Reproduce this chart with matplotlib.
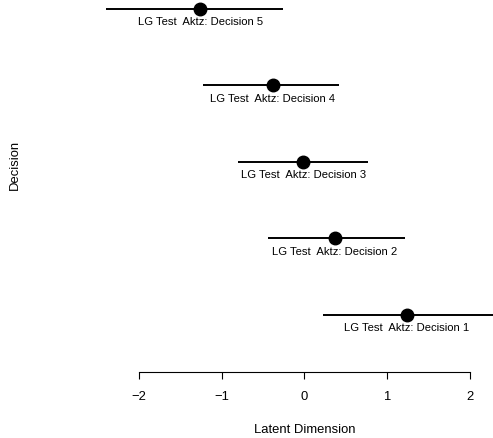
import matplotlib.pyplot as plt

plt.rcParams['font.family'] = ['Liberation Sans', 'DejaVu Sans']

# decisions 1..5 (bottom to top)
decisions = [1, 2, 3, 4, 5]
labels = ['LG Test  Aktz: Decision %d' % d for d in decisions]
est = [1.242, 0.371, -0.012, -0.382, -1.26]
lower = [0.226, -0.435, -0.798, -1.229, -2.40]
upper = [2.30, 1.218, 0.774, 0.423, -0.258]
ticks = [-2, -1, 0, 1, 2]

fig = plt.figure(figsize=(4.93, 4.39), dpi=100)
ax = fig.add_axes([0, 0, 1, 1])

# pixel mapping: x = 304.3 + 82.7*v ; y = 315.7 - 76.55*(d-1)
ax.set_xlim(-304.3 / 82.7, (493 - 304.3) / 82.7)
ax.set_ylim(1 - (439 - 315.7) / 76.55, 1 + 315.7 / 76.55)

for d, lo, hi, m, lab in zip(decisions, lower, upper, est, labels):
    ax.plot([lo, hi], [d, d], color='black', lw=1.4, solid_capstyle='butt')
    ax.plot(m, d, 'o', color='black', markersize=9)
    ax.annotate(lab, (m, d), xytext=(0, -12.5), textcoords='offset pixels',
                ha='center', va='center', fontsize=8.1)

for s in ['left', 'right', 'top']:
    ax.spines[s].set_visible(False)
ax.spines['bottom'].set_position(('data', 1 - (372.7 - 315.7) / 76.55))
ax.spines['bottom'].set_bounds(-2, 2)
ax.spines['bottom'].set_linewidth(0.8)
ax.set_xticks(ticks)
ax.set_xticklabels(['\u22122', '\u22121', '0', '1', '2'])
ax.tick_params(axis='x', direction='out', length=5, width=0.8, pad=8, labelsize=9.4)
ax.set_yticks([])
ax.patch.set_visible(False)

fig.text(304.3 / 493, 1 - 430 / 439, 'Latent Dimension', ha='center', va='center', fontsize=9.4)
fig.text(15 / 493, 1 - 165 / 439, 'Decision', ha='center', va='center', rotation=90, fontsize=9.4)

fig.savefig('out.png', dpi=100)
